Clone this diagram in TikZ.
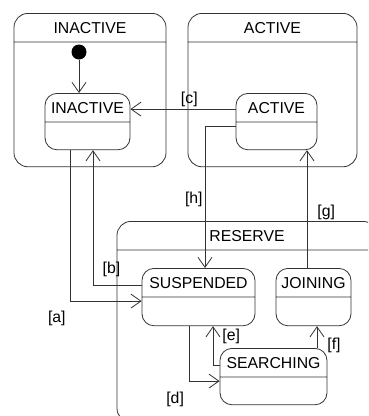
\documentclass[tikz,border=0pt]{standalone}
\usepackage{fontspec}
\setmainfont{Liberation Sans}
\usetikzlibrary{shapes.multipart,arrows.meta}

\begin{document}
\begin{tikzpicture}[x=1pt, y=-1pt,
state_box/.style={rectangle split, rectangle split parts=2, rounded corners=12pt, draw=black!80, line width=0.8pt, inner xsep=2pt, inner ysep=8.3pt, font=\fontsize{15.8}{18}\selectfont, anchor=north, rectangle split empty part height=10.4pt, rectangle split empty part depth=0pt},
container_box/.style={state_box, rounded corners=14pt},
start_dot/.style={circle, fill=black, minimum size=15pt, inner sep=0pt},
out_arrow/.style={-{Straight Barb[length=10pt,width=14pt]}, draw=black!80, line width=0.8pt},
edge_text/.style={font=\fontsize{15.8}{18}\selectfont, inner sep=2pt}
]
\useasboundingbox (0,0) rectangle (368,416);
\clip (0,0) rectangle (368,416);

% containers
\node[container_box, minimum width=152pt, rectangle split empty part height=107.4pt](inactive_group) at (90,13) {INACTIVE \nodepart{two}};
\node[container_box, minimum width=169pt, rectangle split empty part height=107.4pt](active_group) at (272.5,13) {ACTIVE \nodepart{two}};
\node[container_box, minimum width=260pt, rectangle split empty part height=155pt](reserve_group) at (247,221) {RESERVE \nodepart{two}};

% states
\node[start_dot](init) at (79,52) {};
\node[state_box, minimum width=85pt](inactive) at (87.5,93) {INACTIVE \nodepart{two}};
\node[state_box, minimum width=81pt](active) at (276.5,93) {ACTIVE \nodepart{two}};
\node[state_box, minimum width=113pt, rectangle split empty part height=11.4pt](suspended) at (198.5,268) {SUSPENDED \nodepart{two}};
\node[state_box, minimum width=75pt, rectangle split empty part height=11.4pt](joining) at (313.5,268) {JOINING \nodepart{two}};
\node[state_box, minimum width=107pt](searching) at (273.5,348) {SEARCHING \nodepart{two}};

% transitions
\draw[out_arrow](init) -- (init |- inactive.north);
\draw[out_arrow]([xshift=-17.5pt]inactive.south) |- ([yshift=-4pt]suspended.west) node[edge_text, pos=0.5, anchor=north east, xshift=-2pt, yshift=-7.5pt]{[a]};
\draw[out_arrow]([yshift=12pt]suspended.west) -| ([xshift=5.5pt]inactive.south) node[edge_text, pos=0.31, above=6pt]{[b]};
\draw[out_arrow]([yshift=12.5pt]active.west) -- ([yshift=12.5pt]inactive.east) node[edge_text, pos=0.44, above]{[c]};
\draw[out_arrow]([xshift=-9.5pt]suspended.south) |- ([yshift=-4.5pt]searching.west) node[edge_text, pos=0.5, anchor=north east, xshift=-2.7pt, yshift=-8.5pt]{[d]};
\draw[out_arrow]([yshift=11.5pt]searching.west) -| ([xshift=14.5pt]suspended.south) node[edge_text, pos=0.875, right=7pt]{[e]};
\draw[out_arrow]([xshift=43.5pt]searching.north) -- ([xshift=43.5pt]searching.north |- joining.south) node[edge_text, pos=0.12, right=8pt]{[f]};
\draw[out_arrow]([xshift=-6.5pt]joining.north) -- ([xshift=-6.5pt]joining.north |- active.south) node[edge_text, pos=0.47, right=8pt]{[g]};
\draw[out_arrow]([yshift=-4.5pt]active.west) -| ([xshift=6.5pt]suspended.north) node[edge_text, pos=0.76, left]{[h]};

\end{tikzpicture}
\end{document}
